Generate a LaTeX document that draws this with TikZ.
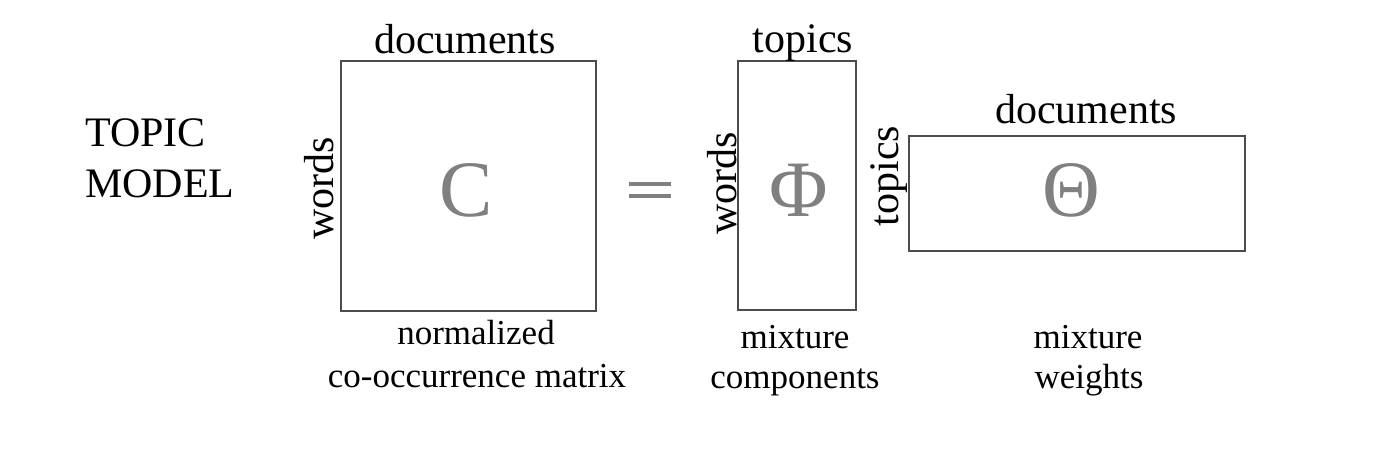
\documentclass[tikz,border=0pt]{standalone}
\usepackage{fontspec}
\setmainfont{Liberation Serif}
\begin{document}
\begin{tikzpicture}[x=1pt,y=-1pt,
  mat/.style={draw=black!70, line width=1.4pt, fill=none},
  lbl/.style={inner sep=0pt, anchor=base, font=\fontsize{42}{50}\selectfont},
  sub/.style={inner sep=0pt, anchor=base, font=\fontsize{35}{42}\selectfont},
  big/.style={inner sep=0pt, anchor=base, text=black!50, font=\fontsize{80}{90}\selectfont},
  eqbar/.style={fill=black!50, draw=none}]
\useasboundingbox (0,0) rectangle (1397,450);
% matrices
\draw[mat] (341,61) rectangle (596,311);
\draw[mat] (738,61) rectangle (856,310);
\draw[mat] (909,136) rectangle (1245,251);
\node[big] (C) at (466,216) {C};
\node[big] (Phi) at (799,216) {Φ};
\node[big] (Theta) at (1071,216) {Θ};
% equals sign
\fill[eqbar] (629,182) rectangle (671,185.5);
\fill[eqbar] (629,194) rectangle (671,197.5);
% title
\node[lbl, anchor=base west] (t1) at (85,146) {TOPIC};
\node[lbl, anchor=base west] (t2) at (85,197) {MODEL};
% top labels
\node[lbl] (d1) at (465,53) {documents};
\node[lbl] (tp1) at (803,52) {topics};
\node[lbl] (d2) at (1086,123) {documents};
% side labels
\node[lbl, rotate=90] (w1) at (333,188) {words};
\node[lbl, rotate=90] (w2) at (736,183) {words};
\node[lbl, rotate=90] (tp2) at (898,176) {topics};
% bottom labels
\node[sub] (n1) at (476,344) {normalized};
\node[sub] (n2) at (477,387) {co-occurrence matrix};
\node[sub] (m1) at (795,348) {mixture};
\node[sub] (m2) at (795,388) {components};
\node[sub] (m3) at (1088,348) {mixture};
\node[sub] (m4) at (1089,388) {weights};
\end{tikzpicture}
\end{document}
